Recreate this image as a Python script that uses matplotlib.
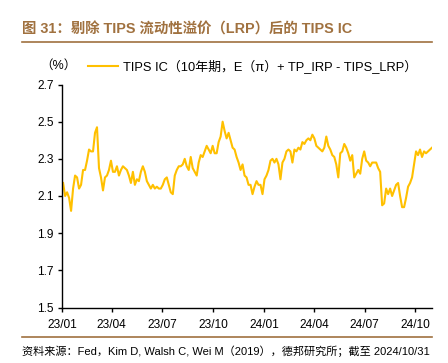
import pandas as pd
import matplotlib.pyplot as plt
import matplotlib.dates as mdates
from matplotlib.lines import Line2D

plt.rcParams['font.family'] = ['Liberation Sans', 'Noto Sans CJK SC', 'DejaVu Sans']

title = '图 31：剔除 TIPS 流动性溢价（LRP）后的 TIPS IC'
source = '资料来源：Fed，Kim D, Walsh C, Wei M（2019），德邦研究所；截至 2024/10/31'
series_name = 'TIPS IC（10年期，E（π）+ TP_IRP - TIPS_LRP）'

start_date = '2023-01-03'
end_date = '2024-10-31'
tips_ic = [
    2.17, 2.10, 2.12, 2.09, 2.02, 2.14, 2.21, 2.20, 2.14, 2.16,
    2.24, 2.24, 2.29, 2.35, 2.34, 2.34, 2.44, 2.47, 2.25, 2.20,
    2.13, 2.20, 2.21, 2.24, 2.29, 2.23, 2.23, 2.26, 2.21, 2.24,
    2.26, 2.25, 2.24, 2.21, 2.17, 2.23, 2.16, 2.19, 2.18, 2.23,
    2.26, 2.23, 2.18, 2.16, 2.14, 2.16, 2.14, 2.15, 2.14, 2.14,
    2.16, 2.19, 2.20, 2.16, 2.12, 2.11, 2.21, 2.24, 2.26, 2.26,
    2.27, 2.30, 2.26, 2.24, 2.31, 2.25, 2.23, 2.21, 2.28, 2.32,
    2.31, 2.34, 2.37, 2.35, 2.33, 2.37, 2.33, 2.33, 2.39, 2.42,
    2.50, 2.45, 2.41, 2.44, 2.40, 2.36, 2.35, 2.31, 2.28, 2.24,
    2.27, 2.21, 2.20, 2.16, 2.16, 2.11, 2.15, 2.18, 2.16, 2.16,
    2.11, 2.19, 2.21, 2.24, 2.29, 2.30, 2.28, 2.30, 2.27, 2.19,
    2.28, 2.30, 2.34, 2.35, 2.34, 2.28, 2.35, 2.34, 2.36, 2.35,
    2.39, 2.38, 2.40, 2.41, 2.40, 2.43, 2.41, 2.37, 2.36, 2.35,
    2.34, 2.36, 2.42, 2.37, 2.35, 2.32, 2.31, 2.27, 2.20, 2.33,
    2.34, 2.38, 2.36, 2.33, 2.29, 2.32, 2.20, 2.22, 2.24, 2.22,
    2.30, 2.34, 2.29, 2.28, 2.26, 2.28, 2.28, 2.28, 2.25, 2.23,
    2.05, 2.06, 2.14, 2.11, 2.14, 2.10, 2.13, 2.16, 2.17, 2.10,
    2.04, 2.04, 2.09, 2.15, 2.17, 2.20, 2.27, 2.34, 2.32, 2.35,
    2.31, 2.34, 2.33, 2.34, 2.35, 2.36,
]
y_ticks = [1.5, 1.7, 1.9, 2.1, 2.3, 2.5, 2.7]
x_ticks = ['2023-01-01', '2023-04-01', '2023-07-01', '2023-10-01',
           '2024-01-01', '2024-04-01', '2024-07-01', '2024-10-01']

dates = pd.date_range(start_date, end_date, periods=len(tips_ic))

W, H = 448, 363
fig = plt.figure(figsize=(W / 100, H / 100), dpi=100)
brown = '#A0713F'
line_color = '#FFC000'

ax = fig.add_axes([62 / W, 1 - 307.5 / H, (432 - 62) / W, (307.5 - 84.5) / H])
ax.plot(dates, tips_ic, color=line_color, lw=1.5)
ax.set_ylim(1.5, 2.7)
ax.set_yticks(y_ticks)
ax.set_yticklabels([f'{v:.1f}' for v in y_ticks])
ax.set_xlim(pd.Timestamp('2023-01-01'), pd.Timestamp(end_date))
ax.set_xticks(pd.to_datetime(x_ticks))
ax.xaxis.set_major_formatter(mdates.DateFormatter('%y/%m'))
for s in ['top', 'right']:
    ax.spines[s].set_visible(False)
for s in ['left', 'bottom']:
    ax.spines[s].set_linewidth(1.0)
    ax.spines[s].set_color('black')
ax.tick_params(axis='both', direction='out', length=3, width=1, labelsize=8.6, colors='black', pad=3)
ax.tick_params(axis='x', pad=5)

# title and rules
fig.text(22 / W, 1 - 29 / H, title, color=brown, fontsize=10.4, fontweight='bold', va='center', ha='left')
fig.add_artist(Line2D([22 / W, 432 / W], [1 - 42 / H, 1 - 42 / H], color=brown, lw=1.2))
fig.add_artist(Line2D([22 / W, 432 / W], [1 - 336.5 / H, 1 - 336.5 / H], color=brown, lw=1.2))

# legend row
fig.text(40 / W, 1 - 66 / H, '（%）', fontsize=9, va='center', ha='left')
fig.add_artist(Line2D([88 / W, 118 / W], [1 - 66 / H, 1 - 66 / H], color=line_color, lw=1.5))
fig.text(123 / W, 1 - 66 / H, series_name, fontsize=9.3, va='center', ha='left')

fig.text(22 / W, 1 - 351 / H, source, fontsize=8, va='center', ha='left')

fig.savefig('out.png', dpi=100)
